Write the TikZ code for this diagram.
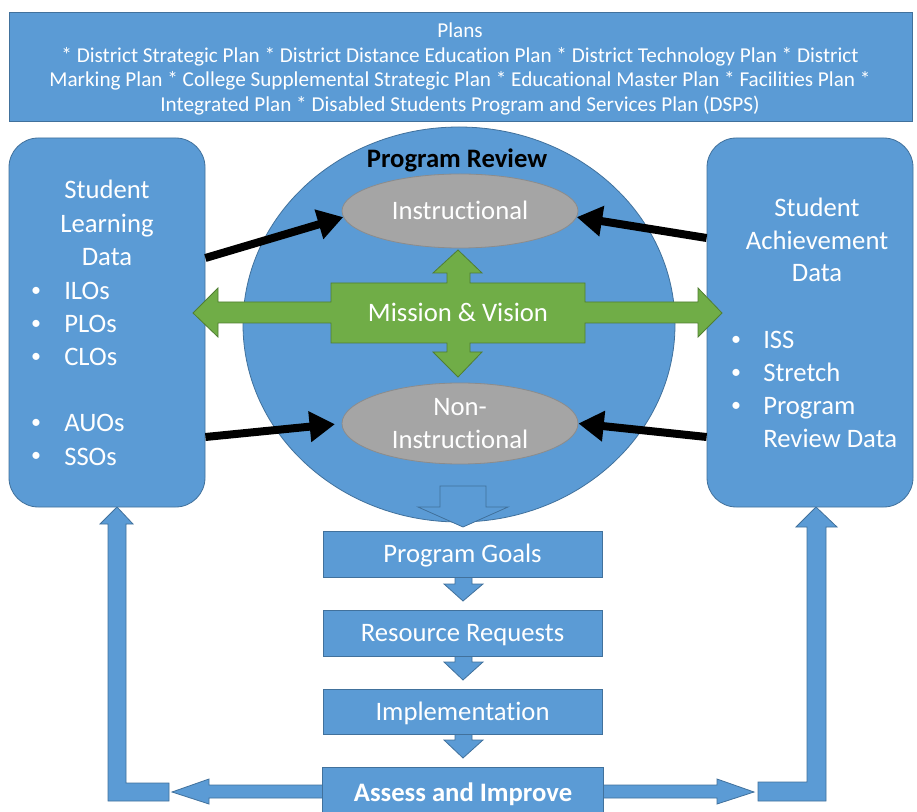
\documentclass[tikz,border=0pt]{standalone}
\usepackage{fontspec}
\setmainfont{Carlito}[Ligatures=NoCommon]
\usetikzlibrary{arrows.meta,shapes.geometric,calc}
\definecolor{bl}{HTML}{5B9BD5}
\definecolor{bld}{HTML}{41719C}
\definecolor{gr}{HTML}{70AD47}
\definecolor{grd}{HTML}{507E32}
\definecolor{gy}{HTML}{A5A5A5}
\definecolor{gyd}{HTML}{8C8C8C}
\begin{document}
\begin{tikzpicture}[x=0.75pt,y=-0.75pt,
  bluebox/.style={fill=bl,draw=bld,line width=0.6pt},
  bigtxt/.style={text=white,font=\fontsize{20}{24.75}\selectfont,inner sep=0pt},
  dottxt/.style={text=white,font=\fontsize{15}{18}\selectfont,inner sep=0pt},
  smalltxt/.style={text=white,font=\fontsize{15.9}{18}\selectfont,inner sep=0pt},
  oneline/.style={text height=16pt,text depth=3pt},
  flowbox/.style={bluebox,rectangle,minimum width=209.25pt,minimum height=34.5pt,inner sep=0pt,
    text=white,font=\fontsize{20}{24.75}\selectfont,oneline},
  greyell/.style={ellipse,fill=gy,draw=gyd,line width=0.6pt,inner sep=0pt,
    text=white,font=\fontsize{20}{24.75}\selectfont},
  blk/.style={line width=6pt,-{Triangle[length=19pt,width=22pt]}},
  greenshape/.style={fill=gr,draw=grd,line width=0.6pt}
]
\useasboundingbox (0,0) rectangle (917,812);
\clip (0,0) rectangle (917,812);
\fill[white] (0,0) rectangle (917,812);

% banner
\node[bluebox,rectangle,minimum width=677.25pt,minimum height=81.75pt,inner sep=0pt] (banner) at (460.5,66.5) {};
\node[smalltxt,anchor=base] (b1) at (460,38) {Plans};
\node[smalltxt,anchor=base] (b2) at (460,63) {* District Strategic Plan * District Distance Education Plan * District Technology Plan * District};
\node[smalltxt,anchor=base] (b3) at (460,87) {Marking Plan * College Supplemental Strategic Plan * Educational Master Plan * Facilities Plan *};
\node[smalltxt,anchor=base] (b4) at (460,112) {Integrated Plan * Disabled Students Program and Services Plan (DSPS)};

% L-shaped return arrows and side arrows from Assess
\draw[bluebox] (117,507) -- (133,524) -- (126,524) -- (126,783) -- (169,783) -- (169,801)
  -- (108,801) -- (108,524) -- (100,524) -- cycle;
\draw[bluebox] (816,507) -- (837,527) -- (826,527) -- (826,801) -- (758,801) -- (758,782)
  -- (807,782) -- (807,527) -- (796,527) -- cycle;
\draw[bluebox] (326,785) -- (209,785) -- (209,779) -- (172,792) -- (209,804) -- (209,798) -- (326,798);
\draw[bluebox] (599,785) -- (717,785) -- (717,779) -- (754,792) -- (717,804) -- (717,798) -- (599,798);

% side boxes
\node[bluebox,rectangle,rounded corners=22pt,minimum width=147pt,minimum height=276.75pt] (lbox) at (107,322.5) {};
\node[bluebox,rectangle,rounded corners=22pt,minimum width=154.5pt,minimum height=276.75pt] (rbox) at (810,322.5) {};

% left box text
\node[bigtxt,anchor=base] (l1) at (107,199) {Student};
\node[bigtxt,anchor=base] (l2) at (107,233) {Learning};
\node[bigtxt,anchor=base] (l3) at (107,266) {Data};
\foreach \yy/\tt/\nm in {300/ILOs/la,333/PLOs/lb,366/CLOs/lc,432/AUOs/ld,465/SSOs/le}{
  \node[dottxt,anchor=base] (\nm dot) at (36,\yy-3) {•};
  \node[bigtxt,anchor=base west] (\nm) at (64,\yy) {\tt};
}
% right box text
\node[bigtxt,anchor=base] (r1) at (817,217) {Student};
\node[bigtxt,anchor=base] (r2) at (817,250) {Achievement};
\node[bigtxt,anchor=base] (r3) at (817,282) {Data};
\foreach \yy/\tt/\nm in {349/ISS/ra,382/Stretch/rb,415/Program/rc}{
  \node[dottxt,anchor=base] (\nm dot) at (736,\yy-3) {•};
  \node[bigtxt,anchor=base west] (\nm) at (763,\yy) {\tt};
}
\node[bigtxt,anchor=base west] (rd) at (763,448) {Review Data};

% program review circle
\node[ellipse,bluebox,minimum width=324pt,minimum height=296.25pt,inner sep=0pt] (circ) at (459,324.5) {};
\node[anchor=base,inner sep=0pt,font=\bfseries\fontsize{20}{24}\selectfont] (prt) at (457,168) {Program Review};

% hollow down arrow
\draw[bluebox] (440,486) -- (486,486) -- (486,507) -- (508,507) -- (463,527) -- (418,507) -- (440,507) -- cycle;

% grey ellipses
\node[greyell,minimum width=177pt,minimum height=55.5pt,oneline] (instr) at (460,211) {Instructional};
\node[greyell,minimum width=177pt,minimum height=60.75pt,align=center] (nonin) at (460,423.5) {Non-\\Instructional};

% green cross arrow
\draw[greenshape] (193,313) -- (218,288) -- (218,302) -- (331,302) -- (331,283) -- (447,283)
  -- (447,273) -- (433,273) -- (458,250) -- (482,273) -- (470,273) -- (470,283) -- (585,283)
  -- (585,302) -- (698,302) -- (698,288) -- (722,313) -- (698,337) -- (698,323) -- (585,323)
  -- (585,343) -- (470,343) -- (470,352) -- (482,352) -- (458,377) -- (433,352) -- (447,352)
  -- (447,343) -- (331,343) -- (331,323) -- (218,323) -- (218,337) -- cycle;
\node[bigtxt,anchor=base] (mv) at (458,322) {Mission \& Vision};

% black arrows
\draw[blk] (lbox.east |- 0,258) -- (instr.183);
\draw[blk,shorten >=5pt] (lbox.east |- 0,437) -- (nonin.west);
\draw[blk] (rbox.west |- 0,238) -- (instr.357);
\draw[blk] (rbox.west |- 0,437) -- (nonin.east);

% flow small arrows (drawn under boxes)
\foreach \yt/\yb/\yp in {573/584/601,652/662/680,730/740/758}{
  \draw[bluebox] (455,\yt) -- (455,\yb) -- (444,\yb) -- (463,\yp) -- (483,\yb) -- (472,\yb) -- (472,\yt) -- cycle;
}

% flow boxes
\node[flowbox] (goals) at (462.5,554) {Program Goals};
\node[flowbox] (res) at (462.5,633) {Resource Requests};
\node[flowbox,minimum height=33.75pt] (impl) at (462.5,711.5) {Implementation};
\node[bluebox,rectangle,minimum width=210.75pt,minimum height=47.25pt,inner sep=0pt] (assess) at (462.5,798.5) {};
\node[bigtxt,anchor=base,font=\bfseries\fontsize{20}{24}\selectfont] (assesst) at (463,801) {Assess and Improve};
\end{tikzpicture}
\end{document}
